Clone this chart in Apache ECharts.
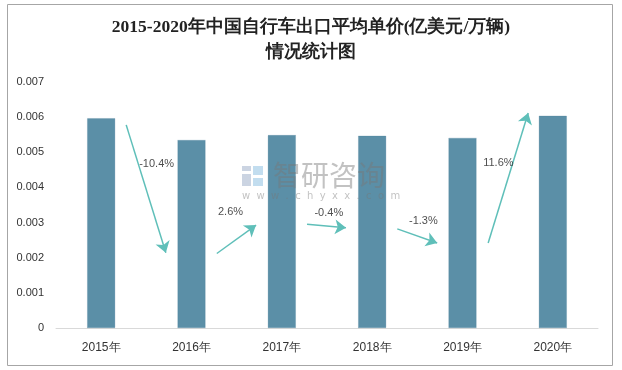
<!DOCTYPE html>
<html><head><meta charset="utf-8">
<script src="https://cdn.jsdelivr.net/npm/echarts@6/dist/echarts.min.js"></script>
<style>html,body{margin:0;padding:0;background:#fff}#c{width:622px;height:370px}</style>
</head><body><div id="c"></div>
<script>
const categories = ['2015年','2016年','2017年','2018年','2019年','2020年'];
const values = [0.00597, 0.00535, 0.00549, 0.00547, 0.00541, 0.00604];
const yTicks = [0, 0.001, 0.002, 0.003, 0.004, 0.005, 0.006, 0.007];
const growthLabels = ['-10.4%','2.6%','-0.4%','-1.3%','11.6%'];
// arrow annotations in data space: [categoryPosition, value]
const arrowStarts = [[0.277,0.00578],[1.28,0.00212],[2.279,0.00295],[3.278,0.00282],[4.284,0.00242]];
const arrowEnds   = [[0.716,0.00214],[1.715,0.00293],[2.71,0.00285],[3.72,0.00242],[4.727,0.00612]];
const labelPos    = [[0.614,0.00467],[1.432,0.00331],[2.52,0.00328],[3.567,0.00305],[4.397,0.00470]];

const chart = echarts.init(document.getElementById('c'));
const tealArrow = '#5fbfb9';
chart.setOption({
  animation:false,
  title:{
    text:'2015-2020年中国自行车出口平均单价(亿美元/万辆)\n情况统计图',
    left:'center', top:10,
    textStyle:{fontFamily:'serif', fontSize:17.5, fontWeight:'bold', color:'#222', lineHeight:25}
  },
  grid:{left:56, right:24, top:82, bottom:42},
  xAxis:[{
    type:'category', data:categories,
    axisLine:{lineStyle:{color:'#d9d9d9'}}, axisTick:{show:false},
    axisLabel:{color:'#333', fontSize:12, margin:14, fontFamily:'Liberation Sans'}
  },{
    type:'value', min:-0.5, max:5.5, show:false
  }],
  yAxis:{
    type:'value', min:0, max:0.007, interval:0.001,
    axisLine:{show:false}, axisTick:{show:false}, splitLine:{show:false},
    axisLabel:{color:'#333', fontSize:11, margin:12, fontFamily:'Liberation Sans',
      formatter:v=>{ const t = yTicks.find(x=>Math.abs(x-v)<1e-9); return t===0?'0':t.toFixed(3);} }
  },
  series:[{
    type:'bar', data:values, barWidth:28,
    itemStyle:{color:'#5b8fa7', borderColor:'#4f7f99', borderWidth:0.5, borderType:'dotted'}
  },{
    type:'lines', coordinateSystem:'cartesian2d', xAxisIndex:1, yAxisIndex:0,
    symbol:['none','arrow'], symbolSize:11,
    lineStyle:{color:tealArrow, width:1.5, opacity:1},
    data:arrowStarts.map((s,i)=>({coords:[s, arrowEnds[i]]})),
    z:5
  },{
    type:'scatter', xAxisIndex:1, yAxisIndex:0, symbolSize:0,
    data:labelPos.map((p,i)=>({value:p, name:growthLabels[i]})),
    label:{show:true, position:'inside', formatter:p=>p.name, color:'#222', fontSize:11, fontFamily:'Liberation Sans'},
    z:6
  }],
  graphic:[
    {type:'rect', shape:{x:7.5,y:4.5,width:605,height:361}, style:{fill:'none', stroke:'#a6a6a6', lineWidth:1}, z:-1},
    {type:'group', left:242, top:166, z:10, children:[
      {type:'rect', shape:{x:0,y:0,width:9,height:5}, style:{fill:'rgba(140,160,190,0.45)'}},
      {type:'rect', shape:{x:0,y:8,width:9,height:12}, style:{fill:'rgba(140,160,190,0.45)'}},
      {type:'rect', shape:{x:11,y:0,width:10,height:9}, style:{fill:'rgba(120,180,220,0.45)'}},
      {type:'rect', shape:{x:11,y:12,width:10,height:8}, style:{fill:'rgba(120,180,220,0.45)'}}
    ]},
    {type:'text', left:273, top:161, z:10, style:{text:'智研咨询', font:'28px "Noto Sans CJK SC"', fill:'rgba(120,120,120,0.45)'}},
    {type:'text', left:242, top:191, z:10, style:{text:'w  w  w  .  c  h  y  x  x  .  c  o  m', font:'10px "DejaVu Sans"', fill:'rgba(120,120,120,0.45)'}}
  ]
});
</script></body></html>
